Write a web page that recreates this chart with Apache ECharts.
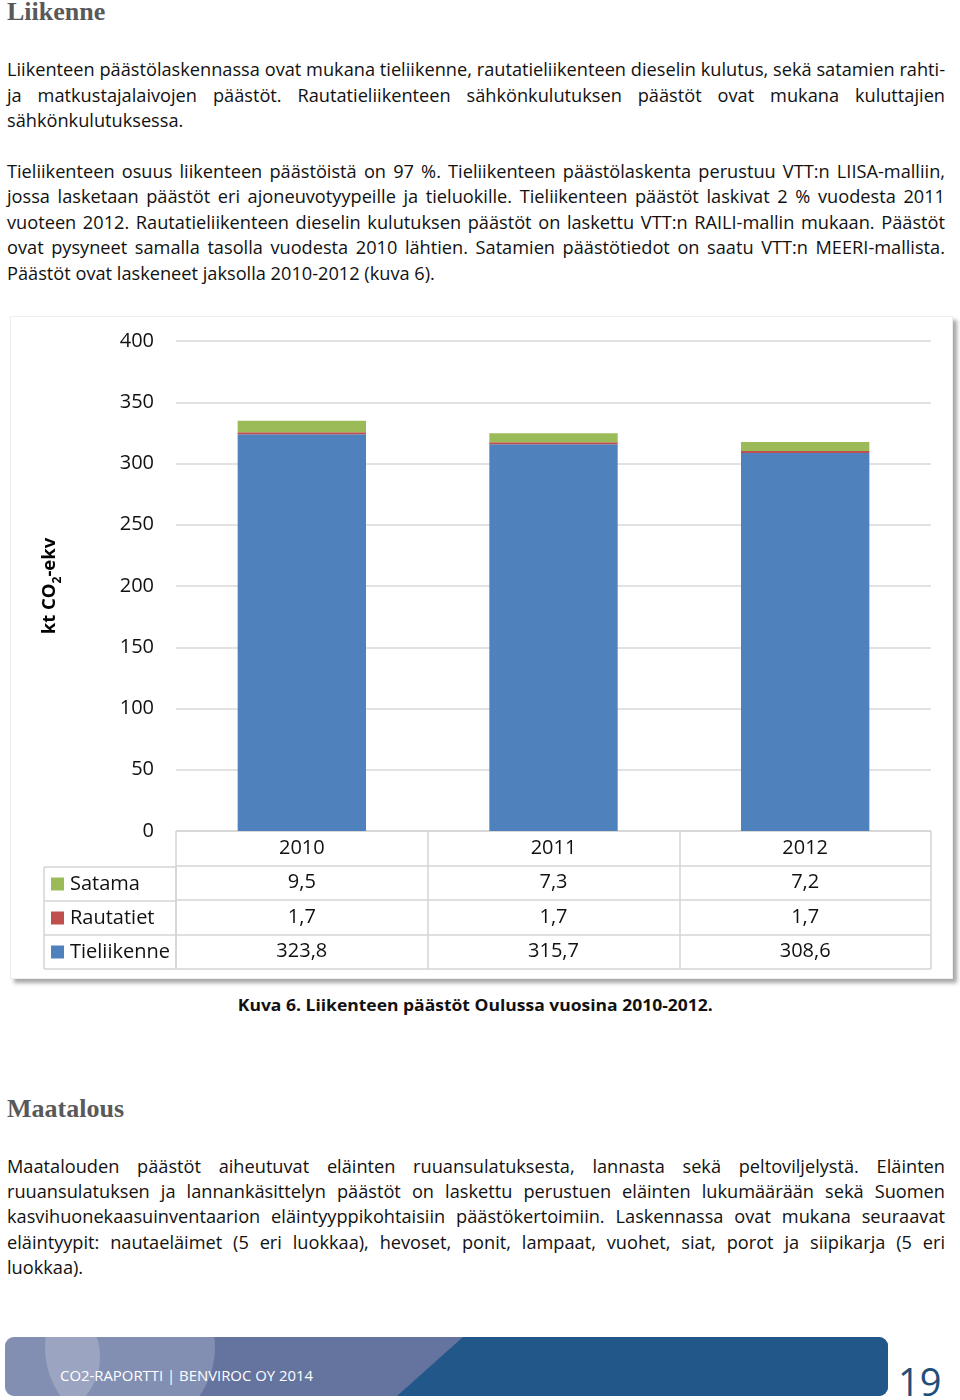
<!DOCTYPE html>
<html><head><meta charset="utf-8">
<script src="https://cdn.jsdelivr.net/npm/echarts@6/dist/echarts.min.js"></script>
<style>
html,body{margin:0;padding:0;background:#fff}
body{width:960px;height:1400px;position:relative;overflow:hidden;font-family:"Open Sans",sans-serif;color:#111}
.h{position:absolute;left:7px;font-family:"Liberation Serif",serif;font-weight:bold;font-size:26px;color:#595959;line-height:30px;white-space:nowrap}
.p{position:absolute;left:7px;width:938px;font-size:18.2px;line-height:25.4px}
.p div{white-space:nowrap;height:25.4px}
.p span{display:inline-block}
#box{position:absolute;left:10px;top:316px;width:941px;height:661px;border:1px solid #eee;box-shadow:4px 4px 4px rgba(0,0,0,0.35);background:#fff}
#chart{position:absolute;left:0;top:0;width:941px;height:661px}
#cap{position:absolute;left:0;width:951px;top:992px;text-align:center;font-weight:bold;font-size:16.6px;line-height:25.4px;white-space:nowrap}
#cap span{display:inline-block}
#foot{position:absolute;left:5px;top:1337px;width:883px;height:59px;border-radius:9px;overflow:hidden;background:#65739F}
#foot .c{position:absolute;border-radius:50%;background:rgba(255,255,255,0.2)}
#foot .dark{position:absolute;left:0;top:0;width:100%;height:100%;background:#22578A;clip-path:polygon(458px 0,100% 0,100% 100%,392px 100%)}
#foot .t{position:absolute;left:55px;top:28px;color:#fff;font-size:15px;line-height:20px;white-space:nowrap;transform-origin:0 50%}
#pg{position:absolute;left:898px;top:1359px;font-size:38px;line-height:44px;color:#1F4E79}
</style></head>
<body>
<div class="h" style="top:-3px">Liikenne</div>
<div class="p" id="p1" style="top:57.4px"></div>
<div class="p" id="p2" style="top:159px"></div>
<div id="box"><div id="chart"></div></div>
<div id="cap"><span id="capt">Kuva 6. Liikenteen päästöt Oulussa vuosina 2010-2012.</span></div>
<div class="h" style="top:1094px">Maatalous</div>
<div class="p" id="p3" style="top:1153.5px"></div>
<div id="foot">
  <div class="c" style="left:40px;top:-75px;width:170px;height:170px"></div>
  <div class="c" style="left:-25px;top:-40px;width:120px;height:120px"></div>
  <div class="dark"></div>
  <div class="t" id="ft">CO2-RAPORTTI | BENVIROC OY 2014</div>
</div>
<div id="pg">19</div>
<script>
// ---- text content ----
const para1 = [
  "Liikenteen päästölaskennassa ovat mukana tieliikenne, rautatieliikenteen dieselin kulutus, sekä satamien rahti-",
  "ja matkustajalaivojen päästöt. Rautatieliikenteen sähkönkulutuksen päästöt ovat mukana kuluttajien",
  "sähkönkulutuksessa."
];
const para2 = [
  "Tieliikenteen osuus liikenteen päästöistä on 97 %. Tieliikenteen päästölaskenta perustuu VTT:n LIISA-malliin,",
  "jossa lasketaan päästöt eri ajoneuvotyypeille ja tieluokille. Tieliikenteen päästöt laskivat 2 % vuodesta 2011",
  "vuoteen 2012. Rautatieliikenteen dieselin kulutuksen päästöt on laskettu VTT:n RAILI-mallin mukaan. Päästöt",
  "ovat pysyneet samalla tasolla vuodesta 2010 lähtien. Satamien päästötiedot on saatu VTT:n MEERI-mallista.",
  "Päästöt ovat laskeneet jaksolla 2010-2012 (kuva 6)."
];
const para3 = [
  "Maatalouden päästöt aiheutuvat eläinten ruuansulatuksesta, lannasta sekä peltoviljelystä. Eläinten",
  "ruuansulatuksen ja lannankäsittelyn päästöt on laskettu perustuen eläinten lukumäärään sekä Suomen",
  "kasvihuonekaasuinventaarion eläintyyppikohtaisiin päästökertoimiin. Laskennassa ovat mukana seuraavat",
  "eläintyypit: nautaeläimet (5 eri luokkaa), hevoset, ponit, lampaat, vuohet, siat, porot ja siipikarja (5 eri",
  "luokkaa)."
];
function fill(id, lines){
  const el = document.getElementById(id);
  lines.forEach((t, i) => {
    const d = document.createElement('div');
    const s = document.createElement('span');
    s.textContent = t;
    d.appendChild(s);
    el.appendChild(d);
    if (i < lines.length - 1) {
      const w = s.getBoundingClientRect().width;
      const target = 938;
      const spaces = t.split(' ').length - 1;
      if (w < target) s.style.wordSpacing = ((target - w) / spaces) + 'px';
      else s.style.letterSpacing = ((target - w) / t.length) + 'px';
    }
  });
}
fill('p1', para1); fill('p2', para2); fill('p3', para3);
function fitW(id, target){
  const el = document.getElementById(id);
  const w = el.getBoundingClientRect().width;
  el.style.transform = 'scaleX(' + (target / w) + ')';
  if (id === 'capt') el.style.transformOrigin = '50% 50%';
}
fitW('capt', 475);
fitW('ft', 253);

// ---- chart data ----
const years = ['2010', '2011', '2012'];
const seriesNames = ['Satama', 'Rautatiet', 'Tieliikenne'];
const satama = [9.5, 7.3, 7.2];
const rautatiet = [1.7, 1.7, 1.7];
const tieliikenne = [323.8, 315.7, 308.6];
const yMin = 0, yMax = 400, yStep = 50;
const yTitle = '{a|kt CO}{s|2}{a|-ekv}';

const colors = { Satama: '#9BBB59', Rautatiet: '#C0504D', Tieliikenne: '#4F81BD' };
const valuesByName = { Satama: satama, Rautatiet: rautatiet, Tieliikenne: tieliikenne };
const tableRows = ['Vuosi'].concat(seriesNames);
const fmt = v => v.toFixed(1).replace('.', ',');

const cells = [], cellTexts = [];
years.forEach((y, i) => {
  cells.push([i, 0]); cellTexts.push(y);
  seriesNames.forEach((n, r) => { cells.push([i, r + 1]); cellTexts.push(fmt(valuesByName[n][i])); });
});

const FONT = '"Open Sans", sans-serif';
const lineCol = '#D9D9D9';
const tabCol = '#D4D4D4';
const noAxis = { axisLine: { show: false }, axisTick: { show: false } };

const chart = echarts.init(document.getElementById('chart'), null, { renderer: 'canvas' });
chart.setOption({
  animation: false,
  textStyle: { fontFamily: FONT },
  grid: [
    { left: 165, right: 21, top: 24, height: 490 },
    { left: 165, right: 21, top: 514, height: 138 },
    { left: 33, width: 132, top: 550, height: 102 }
  ],
  xAxis: [
    Object.assign({ gridIndex: 0, type: 'category', data: years, axisLabel: { show: false } }, noAxis),
    Object.assign({ gridIndex: 1, type: 'category', data: years, axisLabel: { show: false },
      splitLine: { show: true, lineStyle: { color: tabCol, width: 1.5 } } }, noAxis),
    Object.assign({ gridIndex: 2, type: 'category', data: ['legend'], axisLabel: { show: false },
      splitLine: { show: true, lineStyle: { color: tabCol, width: 1.5 } } }, noAxis)
  ],
  yAxis: [
    Object.assign({ gridIndex: 0, type: 'value', min: yMin, max: yMax, interval: yStep,
      axisLabel: { fontSize: 20, color: '#111', margin: 22, fontFamily: FONT },
      splitLine: { lineStyle: { color: lineCol, width: 1.5 } },
      name: yTitle, nameLocation: 'middle', nameGap: 115, nameRotate: 90,
      nameTextStyle: { fontFamily: FONT, rich: {
        a: { fontSize: 18.5, fontWeight: 'bold', color: '#000', fontFamily: FONT, lineHeight: 22 },
        s: { fontSize: 12, fontWeight: 'bold', color: '#000', fontFamily: FONT, lineHeight: 12, verticalAlign: 'bottom', padding: [0, 0, -3, 0] }
      } } }, noAxis),
    Object.assign({ gridIndex: 1, type: 'category', data: tableRows, inverse: true, axisLabel: { show: false },
      splitLine: { show: true, lineStyle: { color: tabCol, width: 1.5 } } }, noAxis),
    Object.assign({ gridIndex: 2, type: 'category', data: seriesNames, inverse: true,
      axisLabel: { inside: true, margin: 7, fontSize: 20, color: '#111', fontFamily: FONT,
        formatter: v => '{' + v + '|}{t|' + v + '}',
        rich: {
          Satama: { width: 13, height: 13, backgroundColor: colors.Satama },
          Rautatiet: { width: 13, height: 13, backgroundColor: colors.Rautatiet },
          Tieliikenne: { width: 13, height: 13, backgroundColor: colors.Tieliikenne },
          t: { fontSize: 20, color: '#111', fontFamily: FONT, padding: [0, 0, 0, 6] }
        } },
      splitLine: { show: true, lineStyle: { color: tabCol, width: 1.5 } } }, noAxis)
  ],
  series: [
    { name: 'Tieliikenne', type: 'bar', stack: 'total', barWidth: '51%', data: tieliikenne,
      itemStyle: { color: colors.Tieliikenne }, xAxisIndex: 0, yAxisIndex: 0, silent: true },
    { name: 'Rautatiet', type: 'bar', stack: 'total', barWidth: '51%', data: rautatiet,
      itemStyle: { color: colors.Rautatiet }, xAxisIndex: 0, yAxisIndex: 0, silent: true },
    { name: 'Satama', type: 'bar', stack: 'total', barWidth: '51%', data: satama,
      itemStyle: { color: colors.Satama }, xAxisIndex: 0, yAxisIndex: 0, silent: true },
    { type: 'custom', xAxisIndex: 1, yAxisIndex: 1, data: cells, silent: true,
      encode: { x: 0, y: 1 },
      renderItem: (params, api) => {
        const p = api.coord([api.value(0), api.value(1)]);
        return { type: 'text', x: p[0], y: p[1],
          style: { text: cellTexts[params.dataIndex], fill: '#111', fontSize: 20, fontFamily: FONT,
            align: 'center', verticalAlign: 'middle' } };
      } }
  ]
});
</script>
</body></html>
